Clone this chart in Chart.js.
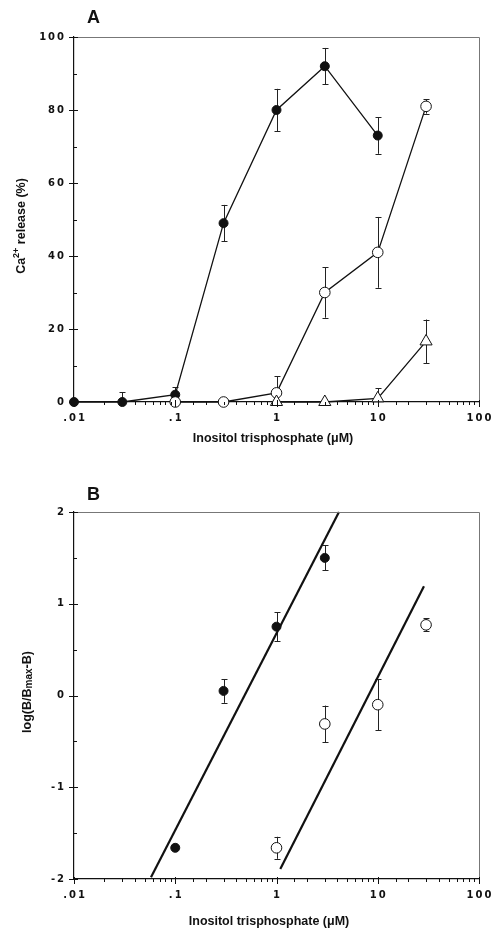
<!DOCTYPE html>
<html>
<head>
<meta charset="utf-8">
<script src="https://cdn.jsdelivr.net/npm/chart.js@4.4.1/dist/chart.umd.min.js"></script>
<style>
  html, body { margin: 0; padding: 0; background: #fff; }
  #wrap { position: relative; width: 496px; height: 931px; }
  canvas { position: absolute; left: 0; }
</style>
</head>
<body>
<div id="wrap">
  <canvas id="graficoA" width="496" height="465" style="top:0"></canvas>
  <canvas id="graficoB" width="496" height="466" style="top:465px"></canvas>
</div>
<script>
// Painel A - liberacao de Ca2+ (%)
const concCheioA = [0.01, 0.03, 0.1, 0.3, 1, 3, 10];
const cheioA = [0, 0, 2, 49, 80, 92, 73];
const cheioErrA = [0, 2.7, 2, 5, 5.8, 5, 5];
const concAbertoA = [0.1, 0.3, 1, 3, 10, 30];
const abertoA = [0, 0, 2.5, 30, 41, 81];
const abertoErrA = [0, 0, 4.5, 6.9, 9.7, 2];
const concTriA = [1, 3, 10, 30];
const triA = [0, 0, 1, 16.6];
const triErrA = [0, 0, 2.8, 6];

// Painel B - log(B/Bmax-B)
const concCheioB = [0.1, 0.3, 1, 3];
const cheioB = [-1.66, 0.05, 0.75, 1.5];
const cheioErrB = [0, 0.13, 0.16, 0.135];
const concAbertoB = [1, 3, 10, 30];
const abertoB = [-1.66, -0.31, -0.1, 0.77];
const abertoErrB = [0.12, 0.2, 0.28, 0.07];
const retaCheioX = [0.0576, 4.14];
const retaCheioY = [-1.98, 2];
const retaAbertoX = [1.09, 28.6];
const retaAbertoY = [-1.89, 1.19];

// rotulos dos eixos
const xTicks = [0.01, 0.1, 1, 10, 100];
const xTickLabels = ['.01', '.1', '1', '10', '100'];
const yTicksA = [0, 20, 40, 60, 80, 100];
const yTicksB = [-2, -1, 0, 1, 2];

const corTinta = '#111';
const fonteTitulo = 'bold 12.5px "Liberation Sans", Arial, sans-serif';

function pontos(xs, ys) {
  return xs.map((x, i) => ({ x: x, y: ys[i] }));
}

function espacar(s) {
  return s.split('').join('\u2009');
}

function ehPotencia(v) {
  return xTicks.some(t => Math.abs(t - v) / t < 1e-6);
}

// Barras de erro, desenhadas antes dos marcadores
const barrasErro = {
  id: 'barrasErro',
  beforeDatasetsDraw(chart) {
    const ctx = chart.ctx;
    const y = chart.scales.y;
    const area = chart.chartArea;
    ctx.save();
    ctx.strokeStyle = '#222';
    ctx.lineWidth = 1;
    chart.data.datasets.forEach((ds, i) => {
      if (!ds.erros) return;
      const meta = chart.getDatasetMeta(i);
      meta.data.forEach((pt, j) => {
        const e = ds.erros[j];
        if (!e) return;
        const v = ds.data[j].y;
        const pTopo = y.getPixelForValue(v + e);
        const pBase = y.getPixelForValue(v - e);
        const px = Math.round(pt.x) + 0.5;
        ctx.beginPath();
        ctx.moveTo(px, Math.max(pTopo, area.top));
        ctx.lineTo(px, Math.min(pBase, area.bottom));
        if (pTopo >= area.top) {
          ctx.moveTo(px - 3, Math.round(pTopo) + 0.5);
          ctx.lineTo(px + 3, Math.round(pTopo) + 0.5);
        }
        if (pBase <= area.bottom - 1) {
          ctx.moveTo(px - 3, Math.round(pBase) + 0.5);
          ctx.lineTo(px + 3, Math.round(pBase) + 0.5);
        }
        ctx.stroke();
      });
    });
    ctx.restore();
  }
};

// Moldura, marcas dos eixos e titulos
const eixos = {
  id: 'eixos',
  afterDraw(chart, args, opts) {
    const ctx = chart.ctx;
    const a = chart.chartArea;
    const x = chart.scales.x;
    const y = chart.scales.y;
    ctx.save();

    ctx.strokeStyle = '#777';
    ctx.lineWidth = 1;
    ctx.beginPath();
    ctx.moveTo(a.left, a.top + 0.5);
    ctx.lineTo(a.right + 0.5, a.top + 0.5);
    ctx.lineTo(a.right + 0.5, a.bottom);
    ctx.stroke();

    ctx.strokeStyle = corTinta;
    ctx.beginPath();
    x.ticks.forEach(t => {
      const px = Math.round(x.getPixelForValue(t.value)) + 0.5;
      if (ehPotencia(t.value)) {
        ctx.moveTo(px, a.bottom - 2);
        ctx.lineTo(px, a.bottom + 5);
      } else {
        ctx.moveTo(px, a.bottom);
        ctx.lineTo(px, a.bottom + 3);
      }
    });
    y.ticks.forEach(t => {
      const py = Math.round(y.getPixelForValue(t.value)) + 0.5;
      if (t.label !== '') {
        ctx.moveTo(a.left - 5, py);
        ctx.lineTo(a.left + 4, py);
      } else {
        ctx.moveTo(a.left, py);
        ctx.lineTo(a.left + 3, py);
      }
    });
    ctx.stroke();

    ctx.fillStyle = corTinta;
    // letra do painel
    ctx.font = 'bold 18px "Liberation Sans", Arial, sans-serif';
    ctx.textAlign = 'left';
    ctx.textBaseline = 'middle';
    ctx.fillText(opts.letra, opts.letraX, opts.letraY);

    // titulo do eixo x
    ctx.font = fonteTitulo;
    ctx.textAlign = 'center';
    ctx.fillText(opts.tituloX, opts.tituloXx, opts.tituloXy);

    // titulo do eixo y (com sobrescrito/subscrito)
    ctx.translate(opts.tituloYx, opts.tituloYy);
    ctx.rotate(-Math.PI / 2);
    ctx.textAlign = 'left';
    let total = 0;
    opts.tituloY.forEach(p => {
      ctx.font = 'bold ' + (p.s || 12.5) + 'px "Liberation Sans", Arial, sans-serif';
      total += ctx.measureText(p.t).width;
    });
    let cx = -total / 2;
    opts.tituloY.forEach(p => {
      ctx.font = 'bold ' + (p.s || 12.5) + 'px "Liberation Sans", Arial, sans-serif';
      ctx.fillText(p.t, cx, p.dy || 0);
      cx += ctx.measureText(p.t).width;
    });
    ctx.restore();
  }
};

function escalas(yMin, yMax, passo, yRotulos, alturaX) {
  return {
    x: {
      type: 'logarithmic',
      min: 0.01,
      max: 100,
      grid: { display: false, drawTicks: true, tickLength: 6 },
      border: { display: true, color: corTinta, width: 1.2 },
      ticks: {
        autoSkip: false,
        maxRotation: 0,
        padding: 4,
        color: corTinta,
        font: { family: 'DejaVu Sans', size: 10, weight: 'bold' },
        callback: function (v) {
          const i = xTicks.findIndex(t => Math.abs(t - v) / t < 1e-6);
          return i >= 0 ? espacar(xTickLabels[i]) : '';
        }
      },
      afterFit: s => { s.height = alturaX; }
    },
    y: {
      type: 'linear',
      min: yMin,
      max: yMax,
      grid: { display: false, drawTicks: false },
      border: { display: true, color: corTinta, width: 1.2 },
      ticks: {
        stepSize: passo,
        padding: 10,
        color: corTinta,
        font: { family: 'DejaVu Sans', size: 10, weight: 'bold' },
        callback: function (v) {
          const r = Math.round(v * 100) / 100;
          return yRotulos.includes(r) ? espacar(String(r)) : '';
        }
      },
      afterFit: s => { s.width = 74; }
    }
  };
}

const pontoCheio = {
  pointStyle: 'circle', pointRadius: 4.5, pointBackgroundColor: corTinta,
  pointBorderColor: corTinta, pointBorderWidth: 1
};
const pontoAberto = {
  pointStyle: 'circle', pointRadius: 5.3, pointBackgroundColor: '#fff',
  pointBorderColor: corTinta, pointBorderWidth: 1
};
const pontoTri = {
  pointStyle: 'triangle', pointRadius: 7, pointBackgroundColor: '#fff',
  pointBorderColor: corTinta, pointBorderWidth: 1
};

document.addEventListener("DOMContentLoaded", () => {
  new Chart(document.getElementById("graficoA"), {
    type: "scatter",
    data: {
      datasets: [
        Object.assign({ data: pontos(concCheioA, cheioA), erros: cheioErrA, showLine: true,
          borderColor: corTinta, borderWidth: 1.3, clip: false, order: 2 }, pontoCheio),
        Object.assign({ data: pontos(concAbertoA, abertoA), erros: abertoErrA, showLine: true,
          borderColor: corTinta, borderWidth: 1.3, clip: false, order: 1 }, pontoAberto),
        Object.assign({ data: pontos(concTriA, triA), erros: triErrA, showLine: true,
          borderColor: corTinta, borderWidth: 1.3, clip: false, order: 0 }, pontoTri)
      ]
    },
    options: {
      responsive: false,
      animation: false,
      devicePixelRatio: 1,
      layout: { padding: { top: 37, right: 17, left: 0, bottom: 0 } },
      scales: escalas(0, 100, 10, yTicksA, 63),
      plugins: {
        legend: { display: false },
        tooltip: { enabled: false },
        eixos: {
          letra: 'A', letraX: 87, letraY: 18,
          tituloX: 'Inositol trisphosphate (\u03bcM)', tituloXx: 273, tituloXy: 439,
          tituloYx: 22, tituloYy: 226,
          tituloY: [{ t: 'Ca' }, { t: '2+', s: 9, dy: -5 }, { t: ' release (%)' }]
        }
      }
    },
    plugins: [barrasErro, eixos]
  });

  new Chart(document.getElementById("graficoB"), {
    type: "scatter",
    data: {
      datasets: [
        { data: pontos(retaCheioX, retaCheioY), showLine: true, borderColor: corTinta,
          borderWidth: 2.2, pointRadius: 0, clip: false, order: 3 },
        { data: pontos(retaAbertoX, retaAbertoY), showLine: true, borderColor: corTinta,
          borderWidth: 2.2, pointRadius: 0, clip: false, order: 3 },
        Object.assign({ data: pontos(concCheioB, cheioB), erros: cheioErrB, showLine: false,
          clip: false, order: 1 }, pontoCheio),
        Object.assign({ data: pontos(concAbertoB, abertoB), erros: abertoErrB, showLine: false,
          clip: false, order: 1 }, pontoAberto)
      ]
    },
    options: {
      responsive: false,
      animation: false,
      devicePixelRatio: 1,
      layout: { padding: { top: 47, right: 17, left: 0, bottom: 0 } },
      scales: escalas(-2, 2, 0.5, yTicksB, 52),
      plugins: {
        legend: { display: false },
        tooltip: { enabled: false },
        eixos: {
          letra: 'B', letraX: 87, letraY: 30,
          tituloX: 'Inositol trisphosphate (\u03bcM)', tituloXx: 269, tituloXy: 457,
          tituloYx: 28, tituloYy: 227,
          tituloY: [{ t: 'log(B/B' }, { t: 'max', s: 10, dy: 1 }, { t: '-B)' }]
        }
      }
    },
    plugins: [barrasErro, eixos]
  });
});
</script>
</body>
</html>
